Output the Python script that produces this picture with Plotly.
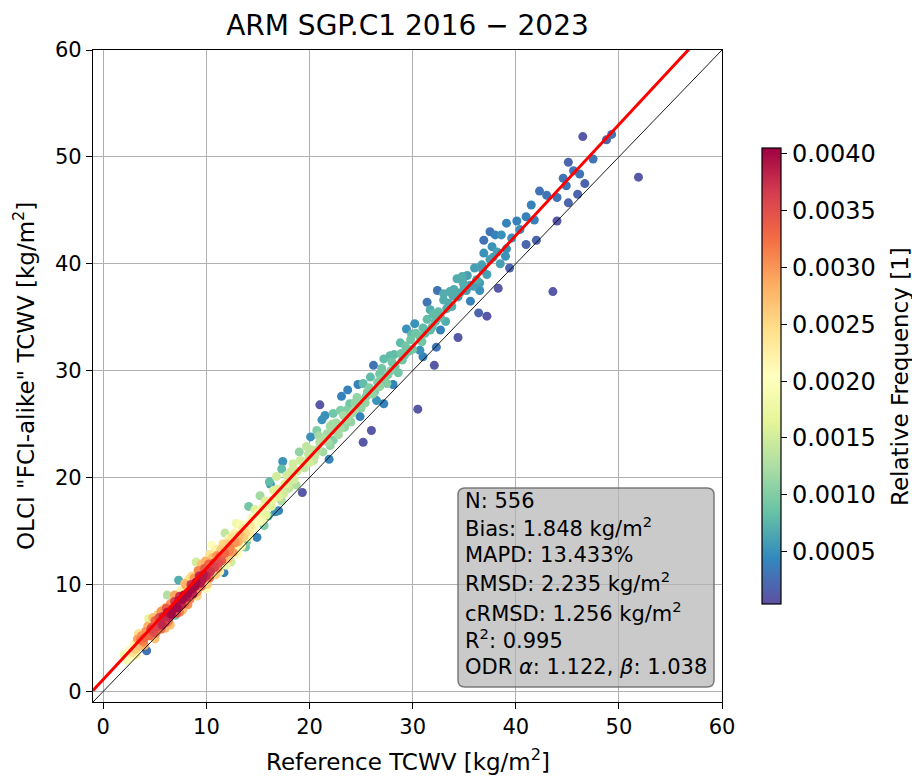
import plotly.graph_objects as go

# ---------------- data ----------------
# Group A: dense low-TCWV cluster
ref_a = [2.0, 2.3, 2.6, 2.8, 3.0, 3.1, 3.3, 3.5, 3.6, 3.7,
         3.9, 4.0, 4.1, 4.2, 4.3, 4.4, 4.5, 4.6, 4.7, 4.9,
         5.0, 5.1, 5.2, 5.3, 5.4, 5.5, 5.6, 5.7, 5.8, 5.9,
         6.0, 6.1, 6.2, 6.2, 6.3, 6.4, 6.5, 6.6, 6.7, 6.8,
         6.9, 7.0, 7.0, 7.1, 7.2, 7.3, 7.3, 7.4, 7.5, 7.6,
         7.7, 7.7, 7.8, 7.9, 8.0, 8.1, 8.2, 8.3, 8.4, 8.5,
         8.6, 8.7, 8.8, 8.9, 9.0, 9.0, 9.1, 9.2, 9.3, 9.4,
         9.4, 9.5, 9.6, 9.7, 9.8, 9.9, 10.0, 10.1, 10.2, 10.3,
         10.4, 10.5, 10.6, 10.7, 10.8, 10.9, 11.0, 11.1, 11.2, 11.3,
         11.4, 11.5, 11.6, 11.7, 11.8, 11.8, 12.0, 12.1, 12.2, 12.3,
         12.4, 12.5, 12.6, 12.7, 12.8, 12.9, 13.0, 13.1, 13.2, 13.4,
         13.5, 13.6, 13.8, 13.8, 13.9, 14.0, 14.1, 14.2, 14.3, 14.4,
         14.6, 14.8, 14.9, 15.0, 15.2, 15.2, 15.4, 15.5, 15.7, 15.8]
olci_a = [3.4, 2.9, 3.1, 3.6, 4.4, 3.9, 4.9, 4.2, 4.8, 5.2,
          4.6, 5.0, 5.6, 3.8, 6.1, 6.8, 5.2, 5.8, 6.0, 5.5,
          6.6, 5.4, 6.0, 7.2, 6.9, 6.5, 5.8, 6.2, 7.0, 7.8,
          6.4, 7.8, 9.0, 7.4, 6.5, 6.9, 8.2, 7.2, 7.6, 8.6,
          8.4, 7.1, 8.0, 7.3, 7.8, 8.5, 10.4, 8.9, 9.4, 8.1,
          8.6, 7.6, 9.0, 8.2, 9.9, 8.8, 9.2, 10.5, 8.6, 10.0,
          9.6, 9.1, 10.6, 9.8, 12.1, 10.2, 9.3, 11.3, 10.8, 11.6,
          10.1, 9.8, 10.4, 10.9, 11.5, 12.2, 10.8, 10.0, 11.9, 10.6,
          11.2, 13.7, 12.5, 12.0, 11.6, 10.9, 12.7, 11.5, 12.0, 12.6,
          13.3, 12.2, 13.8, 11.1, 14.8, 12.9, 13.8, 12.4, 13.1, 13.4,
          12.1, 14.4, 13.0, 14.8, 13.9, 15.7, 12.8, 14.0, 14.6, 13.6,
          15.2, 14.4, 13.5, 14.8, 14.0, 15.6, 17.3, 14.9, 15.5, 16.2,
          15.3, 16.1, 14.4, 16.7, 18.3, 15.9, 16.0, 17.2, 17.8, 16.5]
freq_a_e4 = [18, 19, 20, 24, 22, 26, 29, 27, 32, 30,
             31, 33, 30, 3, 28, 17, 33, 36, 34, 35,
             33, 30, 36, 26, 35, 37, 32, 38, 38, 24,
             36, 34, 13, 39, 31, 38, 30, 40, 40, 26,
             36, 9, 40, 35, 40, 39, 7, 37, 22, 38,
             40, 27, 40, 33, 28, 39, 40, 24, 31, 37,
             40, 38, 30, 40, 15, 40, 30, 31, 38, 16,
             39, 32, 39, 39, 34, 28, 38, 26, 33, 32,
             37, 20, 27, 35, 36, 26, 30, 30, 35, 33,
             26, 34, 25, 4, 14, 33, 26, 27, 31, 31,
             15, 24, 29, 22, 30, 18, 20, 28, 27, 22,
             23, 26, 9, 25, 10, 21, 9, 23, 23, 19,
             20, 20, 4, 18, 12, 19, 18, 17, 16, 17]

# Group B: mid-range 16-30 kg/m2
ref_b = [16.0, 16.1, 16.2, 16.4, 16.5, 16.7, 16.8, 17.0, 17.0, 17.3,
         17.4, 17.5, 17.6, 17.8, 18.0, 18.4, 18.5, 18.8, 19.0, 19.1,
         19.3, 19.5, 19.7, 20.0, 20.1, 20.2, 20.4, 20.7, 20.8, 21.0,
         21.0, 21.2, 21.3, 21.5, 21.5, 21.7, 21.9, 22.0, 22.0, 22.3,
         22.3, 22.5, 22.6, 22.8, 23.0, 23.0, 23.1, 23.3, 23.6, 23.6,
         23.7, 23.9, 24.0, 24.1, 24.3, 24.6, 24.7, 24.9, 24.9, 25.0,
         25.2, 25.2, 25.4, 25.5, 25.8, 25.9, 26.0, 26.1, 26.2, 26.3,
         26.5, 26.6, 26.8, 26.8, 27.0, 27.2, 27.2, 27.3, 27.5, 27.6,
         27.8, 27.9, 28.1, 28.2, 28.3, 28.6, 28.8, 29.0, 29.2, 29.3,
         29.4, 29.6, 29.8]
olci_b = [16.4, 19.6, 19.4, 17.9, 18.8, 16.8, 20.1, 16.9, 18.2, 20.8,
          21.5, 18.5, 19.4, 20.2, 19.0, 21.3, 19.8, 20.6, 22.4, 21.6,
          18.6, 20.9, 22.9, 21.4, 23.8, 22.6, 21.6, 24.4, 22.6, 26.8,
          23.3, 25.4, 22.4, 25.8, 23.6, 24.1, 21.7, 24.8, 23.0, 26.0,
          23.5, 24.4, 25.1, 24.0, 26.3, 24.6, 27.6, 25.8, 26.3, 25.4,
          28.2, 26.9, 25.2, 26.0, 26.3, 27.5, 28.7, 25.7, 27.2, 26.5,
          28.8, 23.3, 27.0, 27.6, 28.4, 29.4, 24.4, 27.8, 30.5, 28.0,
          27.2, 28.9, 29.7, 28.5, 30.2, 26.9, 31.1, 29.0, 28.8, 29.6,
          31.4, 30.0, 28.7, 31.5, 30.4, 29.8, 32.6, 31.0, 31.4, 32.3,
          33.9, 31.8, 32.9]
freq_b_e4 = [8, 8, 5, 17, 16, 5, 15, 4, 16, 8,
             5, 15, 16, 15, 14, 15, 15, 15, 11, 15,
             1, 14, 14, 15, 5, 14, 14, 10, 13, 1,
             13, 5, 12, 5, 13, 12, 4, 12, 11, 9,
             10, 12, 12, 12, 10, 12, 4, 12, 10, 12,
             4, 9, 11, 12, 12, 11, 4, 4, 11, 11,
             8, 1, 11, 10, 10, 8, 1, 11, 3, 10,
             5, 10, 9, 11, 9, 4, 8, 10, 10, 10,
             8, 10, 4, 8, 9, 9, 8, 9, 9, 9,
             5, 9, 9]

# Group C: high-TCWV range
ref_c = [30.0, 30.2, 30.3, 30.5, 30.7, 30.7, 30.9, 31.0, 31.2, 31.4,
         31.4, 31.7, 31.7, 31.9, 32.1, 32.2, 32.3, 32.4, 32.5, 32.7,
         32.7, 33.0, 33.0, 33.2, 33.3, 33.5, 33.6, 33.8, 34.0, 34.3,
         34.4, 34.4, 34.6, 34.8, 34.9, 35.2, 35.3, 35.6, 35.6, 35.9,
         36.0, 36.2, 36.4, 36.5, 36.5, 36.7, 36.8, 36.9, 36.9, 37.2,
         37.2, 37.5, 37.5, 37.7, 37.8, 38.0, 38.2, 38.3, 38.5, 38.6,
         39.0, 39.1, 39.1, 39.4, 39.6, 40.1, 40.4, 41.0, 41.0, 41.5,
         41.8, 42.0, 42.3, 43.0, 43.6, 44.0, 44.0, 44.6, 44.9, 45.1,
         45.1, 45.6, 46.0, 46.2, 46.5, 46.7, 47.5, 48.8, 49.3, 51.9]
olci_c = [32.0, 34.4, 33.5, 26.4, 33.2, 31.9, 32.7, 31.3, 33.5, 36.4,
          34.8, 33.8, 35.7, 34.1, 30.5, 34.6, 32.2, 37.5, 35.5, 35.0,
          33.8, 36.6, 37.2, 34.6, 35.8, 36.3, 37.4, 36.0, 37.6, 38.6,
          33.1, 36.9, 37.3, 38.8, 38.2, 37.5, 38.9, 36.5, 38.0, 37.9,
          39.6, 38.5, 35.4, 38.2, 37.5, 39.9, 39.4, 42.2, 41.0, 39.0,
          35.1, 43.0, 40.4, 41.6, 40.6, 42.7, 41.1, 37.7, 40.0, 42.7,
          40.7, 41.4, 43.8, 39.6, 42.4, 44.0, 43.2, 44.4, 41.8, 45.5,
          44.1, 42.2, 46.8, 46.4, 37.4, 46.2, 44.0, 48.0, 47.3, 49.5,
          45.7, 48.7, 46.5, 48.4, 51.9, 47.5, 49.8, 51.6, 52.1, 48.1]
freq_c_e4 = [9, 5, 9, 1, 9, 5, 9, 4, 8, 3,
             8, 8, 7, 8, 1, 8, 3, 3, 8, 8,
             4, 7, 7, 7, 7, 7, 7, 7, 7, 7,
             1, 6, 7, 7, 7, 6, 6, 4, 6, 6,
             6, 7, 2, 6, 5, 6, 6, 3, 5, 6,
             1, 3, 6, 5, 6, 4, 6, 1, 6, 5,
             5, 5, 4, 2, 5, 4, 5, 4, 2, 4,
             4, 2, 3, 3, 1, 3, 1, 3, 3, 2,
             2, 3, 2, 3, 1, 2, 3, 2, 3, 1]

# Group D: further points filling the band along the fit
ref_d = [2.5, 3.2, 3.4, 4.0, 4.8, 5.0, 5.6, 6.0, 6.5, 6.9,
         7.4, 7.9, 8.2, 8.6, 9.1, 9.5, 10.0, 10.3, 10.9, 11.3,
         11.9, 12.2, 12.9, 13.3, 14.1, 14.7, 15.6, 16.3, 16.9, 17.3,
         17.9, 18.2, 18.7, 19.4, 19.9, 20.5, 20.9, 21.8, 22.2, 23.4,
         24.4, 25.6, 26.9, 28.0, 28.9, 29.9, 31.0, 32.0, 33.9, 35.0]
olci_d = [3.8, 3.4, 5.4, 4.3, 6.9, 4.9, 7.5, 5.9, 6.2, 9.0,
          7.4, 10.1, 8.1, 10.8, 8.9, 11.9, 9.6, 12.8, 13.3, 11.2,
          11.8, 14.3, 13.1, 15.6, 14.4, 17.0, 15.5, 17.3, 18.9, 17.8,
          19.4, 20.6, 19.3, 21.5, 22.2, 22.0, 23.9, 23.3, 25.0, 24.7,
          27.0, 28.0, 29.2, 30.8, 31.6, 33.4, 34.0, 35.3, 37.0, 37.8]
freq_d_e4 = [21, 22, 24, 28, 27, 27, 30, 28, 27, 29,
             31, 27, 30, 25, 25, 27, 20, 24, 22, 22,
             18, 22, 22, 19, 18, 16, 10, 16, 16, 13,
             15, 15, 13, 15, 14, 14, 12, 12, 12, 11,
             11, 10, 10, 9, 9, 8, 8, 8, 7, 7]

# statistics shown in the box
n_obs = 556
bias = 1.848
mapd = 13.433
rmsd = 2.235
crmsd = 1.256
r2 = 0.995
odr_alpha = 1.122   # intercept
odr_beta = 1.038    # slope

axis_ticks = [0, 10, 20, 30, 40, 50, 60]
cbar_ticks = [0.0005, 0.0010, 0.0015, 0.0020, 0.0025, 0.0030, 0.0035, 0.0040]

# ---------------- assemble ----------------
ref = ref_a + ref_b + ref_c + ref_d
olci = olci_a + olci_b + olci_c + olci_d
freq = [v * 1e-4 for v in (freq_a_e4 + freq_b_e4 + freq_c_e4 + freq_d_e4)]
order = sorted(range(len(ref)), key=lambda i: freq[i])
xs = [ref[i] for i in order]
ys = [olci[i] for i in order]
cs = [freq[i] for i in order]

spectral_r = [
    [0.0, 'rgb(94,79,162)'], [0.1, 'rgb(50,136,189)'], [0.2, 'rgb(102,194,165)'],
    [0.3, 'rgb(171,221,164)'], [0.4, 'rgb(230,245,152)'], [0.5, 'rgb(255,255,191)'],
    [0.6, 'rgb(254,224,139)'], [0.7, 'rgb(253,174,97)'], [0.8, 'rgb(244,109,67)'],
    [0.9, 'rgb(213,62,79)'], [1.0, 'rgb(158,1,66)']]

FONT = "DejaVu Sans"
FS = 21        # tick labels and stats box
FS_LAB = 23    # axis titles
FS_CB = 24     # colorbar tick labels

W, H = 912, 776
L, R, T, B = 93, 190, 50, 74
PW, PH = W - L - R, H - T - B


def px_to_paper(px, py):
    return (px - L) / PW, 1 - (py - T) / PH


fig = go.Figure()

fig.add_trace(go.Scatter(
    x=xs, y=ys, mode='markers',
    marker=dict(size=9, color=cs, colorscale=spectral_r, cmin=0.00004, cmax=0.00405,
                line=dict(width=0),
                colorbar=dict(
                    thickness=19, len=456, lenmode='pixels',
                    x=px_to_paper(762, 0)[0], xanchor='left', xpad=0,
                    y=0.5, yanchor='middle', ypad=0,
                    outlinewidth=1.2, outlinecolor='black',
                    ticks='outside', ticklen=6, tickwidth=1.2, tickcolor='black',
                    tickvals=cbar_ticks, ticktext=[f"{v:.4f}" for v in cbar_ticks],
                    tickfont=dict(family=FONT, size=FS_CB, color='black'))),
    showlegend=False, hoverinfo='skip'))

# 1:1 line
fig.add_trace(go.Scatter(x=[-1, 60], y=[-1, 60], mode='lines',
                         line=dict(color='black', width=0.9), showlegend=False))
# ODR fit line
fit_x = [-1, 60]
fit_y = [odr_alpha + odr_beta * v for v in fit_x]
fig.add_trace(go.Scatter(x=fit_x, y=fit_y, mode='lines',
                         line=dict(color='#ff0000', width=3), showlegend=False))

axis_common = dict(
    range=[-1, 60], tickvals=axis_ticks, showgrid=True, gridcolor='#b0b0b0', gridwidth=1.1,
    zeroline=False, showline=True, linecolor='black', linewidth=1.3, mirror=True,
    ticks='outside', ticklen=6, tickwidth=1.2, tickcolor='black', automargin=False,
    tickfont=dict(family=FONT, size=FS, color='black'))

fig.update_layout(
    width=W, height=H,
    margin=dict(l=L, r=R, t=T, b=B, autoexpand=False),
    paper_bgcolor='white', plot_bgcolor='white',
    font=dict(family=FONT, size=FS, color='black'),
    title=dict(text='ARM SGP.C1 2016 \u2212 2023', x=0.5, xref='paper', xanchor='center',
               y=1 - 25 / H, yref='container', yanchor='middle',
               font=dict(family=FONT, size=28, color='black')),
    xaxis=axis_common,
    yaxis=axis_common,
)

# axis titles as annotations for exact placement
fig.add_annotation(text='Reference TCWV [kg/m<sup>2</sup>]', x=0.5, y=px_to_paper(0, 760)[1],
                   xref='paper', yref='paper', xanchor='center', yanchor='middle',
                   showarrow=False, font=dict(family=FONT, size=FS_LAB, color='black'))
fig.add_annotation(text='OLCI "FCI-alike" TCWV [kg/m<sup>2</sup>]', x=px_to_paper(24, 0)[0], y=0.5,
                   xref='paper', yref='paper', xanchor='center', yanchor='middle', textangle=-90,
                   showarrow=False, font=dict(family=FONT, size=FS_LAB, color='black'))
# colorbar label
fig.add_annotation(text='Relative Frequency [1]', x=px_to_paper(900, 0)[0], y=px_to_paper(0, 377)[1],
                   xref='paper', yref='paper', xanchor='center', yanchor='middle', textangle=-90,
                   showarrow=False, font=dict(family=FONT, size=FS_LAB, color='black'))

# stats box with rounded corners
x0, y0 = px_to_paper(458, 687)
x1, y1 = px_to_paper(714, 488)
rx, ry = 7 / PW, 7 / PH
path = (f"M {x0+rx},{y1} L {x1-rx},{y1} Q {x1},{y1} {x1},{y1-ry} "
        f"L {x1},{y0+ry} Q {x1},{y0} {x1-rx},{y0} L {x0+rx},{y0} "
        f"Q {x0},{y0} {x0},{y0+ry} L {x0},{y1-ry} Q {x0},{y1} {x0+rx},{y1} Z")
fig.add_shape(type='path', path=path, xref='paper', yref='paper',
              fillcolor='rgba(180,180,180,0.7)', line=dict(color='rgba(110,110,110,0.9)', width=1.5),
              layer='above')

stat_lines = [
    f"N: {n_obs}",
    f"Bias: {bias:.3f} kg/m<sup>2</sup>",
    f"MAPD: {mapd:.3f}%",
    f"RMSD: {rmsd:.3f} kg/m<sup>2</sup>",
    f"cRMSD: {crmsd:.3f} kg/m<sup>2</sup>",
    f"R<sup>2</sup>: {r2:.3f}",
    f"ODR <i>\u03b1</i>: {odr_alpha:.3f}, <i>\u03b2</i>: {odr_beta:.3f}",
]
line_bottoms_px = [514, 542, 568, 597, 627, 654, 680]
tx = px_to_paper(464, 0)[0]
for txt, pyb in zip(stat_lines, line_bottoms_px):
    fig.add_annotation(text=txt, x=tx, y=px_to_paper(0, pyb)[1], xref='paper', yref='paper',
                       xanchor='left', yanchor='bottom', showarrow=False, align='left',
                       borderpad=0, font=dict(family=FONT, size=FS, color='black'))

fig.write_html("out.html")
